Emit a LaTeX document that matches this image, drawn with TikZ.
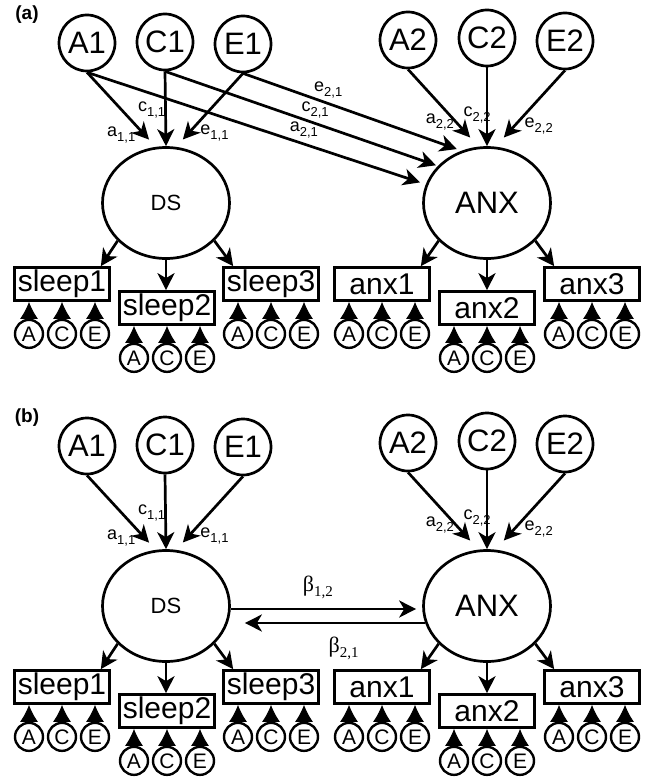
\documentclass[tikz,border=0pt]{standalone}
\usepackage{fontspec}
\setmainfont{Liberation Sans}
\newfontfamily\grfont{Liberation Serif}
\usetikzlibrary{arrows.meta,positioning,calc,shapes.geometric}
\tikzset{
  latent/.style={draw,circle,line width=2.7pt,minimum size=56pt,inner sep=0pt,
    font=\fontsize{31}{31}\selectfont},
  factor/.style={draw,ellipse,line width=2.7pt,minimum width=127pt,
    minimum height=111pt,inner sep=0pt},
  indbox/.style={draw,rectangle,line width=2.7pt,minimum width=95pt,
    minimum height=33pt,inner sep=0pt,font=\fontsize{30}{30}\selectfont},
  residc/.style={draw,circle,line width=2.4pt,minimum size=28pt,inner sep=0pt,
    font=\fontsize{21}{21}\selectfont},
  patharrow/.style={-{Stealth[length=17pt,width=17pt,inset=5pt]},line width=2.7pt},
  residarrow/.style={-{Latex[length=17pt,width=18pt]},line width=1pt},
  pathlabel/.style={font=\fontsize{18}{18}\selectfont,inner sep=1pt},
  betalabel/.style={font=\grfont\fontsize{22}{22}\selectfont,inner sep=1pt},
  panellabel/.style={font=\bfseries\fontsize{19}{19}\selectfont},
}
\newcommand{\plab}[2]{#1\raisebox{-5pt}{\fontsize{13}{13}\selectfont#2}}
\newcommand{\blab}[1]{β\raisebox{-5pt}{\fontsize{15}{15}\selectfont#1}}

\begin{document}
\begin{tikzpicture}[x=1pt,y=-1pt]
  \useasboundingbox (0,0) rectangle (651,778);
  \foreach \p/\dy in {a/0,b/403}{
  \begin{scope}[yshift=-\dy pt]
    \node[panellabel] (panel\p) at (27,15) {(\p)};
    % A, C, E factors
    \foreach \n/\x/\y in {A1/87/43,C1/165/42,E1/243/44,A2/408/40,C2/487/38,E2/565/41}
      \node[latent] (\n\p) at (\x,\y) {\n};
    % latent phenotypes
    \node[factor,font=\fontsize{22}{22}\selectfont] (DS\p) at (166,203) {DS};
    \node[factor,font=\fontsize{31}{31}\selectfont] (ANX\p) at (487,203) {ANX};
    \coordinate (DSaim\p) at ([yshift=45pt]DS\p.center);
    \coordinate (ANXaim\p) at ([yshift=47pt]ANX\p.center);
    % paths onto DS
    \draw[patharrow,shorten >=25pt] (A1\p.south) -- (DSaim\p)
      node[pathlabel,pos=0.73,left=7pt] {\plab{a}{1,1}};
    \draw[patharrow] (C1\p.south) -- (DS\p.north)
      node[pathlabel,pos=0.51,left=-2pt] {\plab{c}{1,1}};
    \draw[patharrow,shorten >=25pt] (E1\p.south) -- (DSaim\p)
      node[pathlabel,pos=0.70,right=9pt] {\plab{e}{1,1}};
    % paths onto ANX
    \draw[patharrow,shorten >=25pt] (A2\p.south) -- (ANXaim\p)
      node[pathlabel,pos=0.61,left=0pt] {\plab{a}{2,2}};
    \draw[patharrow] (C2\p.south) -- (ANX\p.north)
      node[pathlabel,pos=0.6,left=-6pt] {\plab{c}{2,2}};
    \draw[patharrow,shorten >=25pt] (E2\p.south) -- (ANXaim\p)
      node[pathlabel,pos=0.65,right=8pt] {\plab{e}{2,2}};
    % indicators
    \foreach \b/\x/\y in {sleep1/62/284,sleep2/167/308,sleep3/271/284,
                          anx1/382/284,anx2/487/308,anx3/592/284}{
      \node[indbox] (\b\p) at (\x,\y) {\b};
      \foreach \r/\dx in {A/-33,C/0,E/33}{
        \node[residc] (\b\r\p) at ($(\b\p.south)+(\dx,32)$) {\r};
        \draw[residarrow] ([yshift=-1pt]\b\r\p.north) -- (\b\r\p.north |- \b\p.south);
      }
    }
    \draw[patharrow] (DS\p.218) -- ([xshift=-10pt]sleep1\p.north east);
    \draw[patharrow] (DS\p.south) -- (DS\p.south |- sleep2\p.north);
    \draw[patharrow] (DS\p.322) -- ([xshift=11pt]sleep3\p.north west);
    \draw[patharrow] (ANX\p.218) -- ([xshift=-10pt]anx1\p.north east);
    \draw[patharrow] (ANX\p.south) -- (ANX\p.south |- anx2\p.north);
    \draw[patharrow] (ANX\p.322) -- ([xshift=11pt]anx3\p.north west);
  \end{scope}}
  % cross paths, model (a)
  \draw[patharrow,shorten >=6pt] (A1a.south) -- (ANXa.163)
    node[pathlabel,pos=0.64,above=3pt] {\plab{a}{2,1}};
  \draw[patharrow,shorten >=2pt] (C1a.south) -- (ANXa.143)
    node[pathlabel,pos=0.55,above=3pt] {\plab{c}{2,1}};
  \draw[patharrow,shorten >=5pt] (E1a.south) -- (ANXa.116)
    node[pathlabel,pos=0.39,above=3pt] {\plab{e}{2,1}};
  % reciprocal paths, model (b)
  \draw[patharrow,shorten >=6pt] ([yshift=-3pt]DSb.east) -- ([yshift=-3pt]ANXb.west)
    node[betalabel,pos=0.455,above=8pt] {\blab{1,2}};
  \draw[patharrow,shorten >=14pt] ([shift={(3,17)}]ANXb.west) -- ([yshift=-17pt]DSb.east)
    node[betalabel,pos=0.42,below=12pt] {\blab{2,1}};
\end{tikzpicture}
\end{document}
